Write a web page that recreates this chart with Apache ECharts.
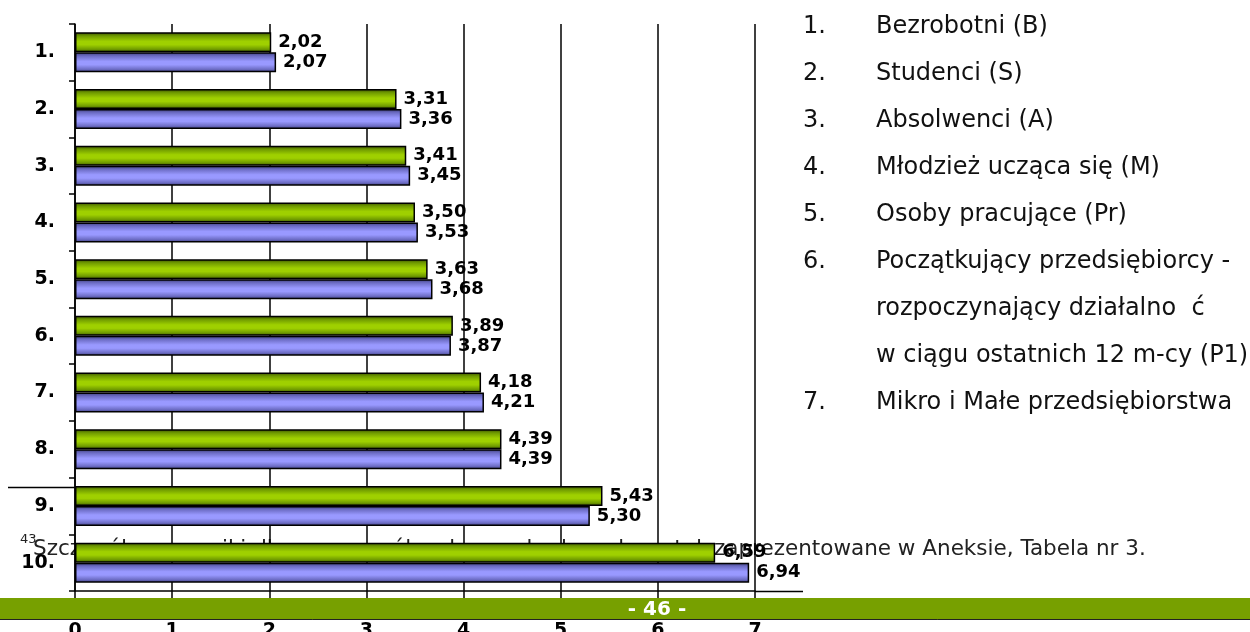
<!DOCTYPE html>
<html>
<head>
<meta charset="utf-8">
<script src="https://cdn.jsdelivr.net/npm/echarts@6/dist/echarts.min.js"></script>
<style>
  html, body { margin: 0; padding: 0; background: #fff; }
  #main { width: 1250px; height: 632px; }
</style>
</head>
<body>
<div id="main"></div>
<script>
// dane z wykresu
var categories = ['1.', '2.', '3.', '4.', '5.', '6.', '7.', '8.', '9.', '10.'];
var greenValues = [2.02, 3.31, 3.41, 3.50, 3.63, 3.89, 4.18, 4.39, 5.43, 6.59];
var purpleValues = [2.07, 3.36, 3.45, 3.53, 3.68, 3.87, 4.21, 4.39, 5.30, 6.94];
var xMin = 0, xMax = 7, xStep = 1;

// opis po prawej
var legendNumbers = ['1.', '2.', '3.', '4.', '5.', '6.', '', '', '7.'];
var legendTexts = [
  'Bezrobotni (B)',
  'Studenci (S)',
  'Absolwenci (A)',
  'Młodzież ucząca się (M)',
  'Osoby pracujące (Pr)',
  'Początkujący przedsiębiorcy -',
  'rozpoczynający działalno  ć',
  'w ciągu ostatnich 12 m-cy (P1)',
  'Mikro i Małe przedsiębiorstwa'
];

var footnoteNo = '43';
var footnoteLeft = 'Szczegółowe wyniki dla poszczególnych grup badanych zostały';
var footnoteRight = 'zaprezentowane w Aneksie, Tabela nr 3.';
var pageNo = '- 46 -';

function fmt(p) {
  return p.value.toFixed(2).replace('.', ',');
}

function barGradient(edge, mid, light) {
  return {
    type: 'linear', x: 0, y: 0, x2: 0, y2: 1,
    colorStops: [
      { offset: 0, color: edge },
      { offset: 0.18, color: mid },
      { offset: 0.45, color: light },
      { offset: 0.62, color: light },
      { offset: 0.85, color: mid },
      { offset: 1, color: edge }
    ]
  };
}

var graphics = [];
// linia przypisu
graphics.push({ type: 'line', z: 0, shape: { x1: 8, y1: 487.5, x2: 75, y2: 487.5 }, style: { stroke: '#000', lineWidth: 1.5 } });
graphics.push({ type: 'text', z: 0, style: { text: footnoteNo, x: 20, y: 540, font: '13px "DejaVu Sans"', fill: '#222', textVerticalAlign: 'middle' } });
graphics.push({ type: 'text', z: 0, style: { text: footnoteLeft, x: 33, y: 549, font: '21.5px "DejaVu Sans"', fill: '#222', textVerticalAlign: 'middle' } });
graphics.push({ type: 'text', z: 0, style: { text: footnoteRight, x: 714, y: 549, font: '21.5px "DejaVu Sans"', fill: '#222', textVerticalAlign: 'middle' } });
// przedluzenie osi X
graphics.push({ type: 'line', z: 5, shape: { x1: 755, y1: 591.5, x2: 803, y2: 591.5 }, style: { stroke: '#000', lineWidth: 1.5 } });
// stopka strony
graphics.push({ type: 'rect', z: 100, shape: { x: 0, y: 598, width: 1250, height: 22 }, style: { fill: '#77a000' } });
graphics.push({ type: 'line', z: 101, shape: { x1: 0, y1: 619.5, x2: 1250, y2: 619.5 }, style: { stroke: '#222', lineWidth: 1 } });
graphics.push({ type: 'text', z: 101, style: { text: pageNo, x: 657, y: 610, font: 'bold 20px "DejaVu Sans"', fill: '#fff', textAlign: 'center', textVerticalAlign: 'middle' } });

legendTexts.forEach(function (t, i) {
  var y = 27 + i * 47;
  if (legendNumbers[i]) {
    graphics.push({ type: 'text', style: { text: legendNumbers[i], x: 803, y: y, font: '24px "DejaVu Sans"', fill: '#111', textVerticalAlign: 'middle' } });
  }
  graphics.push({ type: 'text', style: { text: t, x: 876, y: y, font: '24px "DejaVu Sans"', fill: '#111', textVerticalAlign: 'middle' } });
});

var labelStyle = {
  show: true,
  position: 'right',
  distance: 7,
  formatter: fmt,
  color: '#000',
  fontFamily: 'DejaVu Sans',
  fontWeight: 'bold',
  fontSize: 18
};

var option = {
  animation: false,
  backgroundColor: '#fff',
  grid: { left: 75, right: 495, top: 24, bottom: 41, containLabel: false, outerBoundsMode: 'none' },
  xAxis: {
    type: 'value',
    min: xMin,
    max: xMax,
    interval: xStep,
    axisLine: { show: true, lineStyle: { color: '#000', width: 1.5 } },
    axisTick: { show: true, length: 7, lineStyle: { color: '#000', width: 1.5 } },
    splitLine: { show: true, lineStyle: { color: '#000', width: 1.5 } },
    axisLabel: { margin: 31, color: '#000', fontFamily: 'DejaVu Sans', fontWeight: 'bold', fontSize: 19 }
  },
  yAxis: {
    type: 'category',
    inverse: true,
    data: categories,
    axisLine: { show: true, lineStyle: { color: '#000', width: 1.5 } },
    axisTick: { show: true, length: 6, lineStyle: { color: '#000', width: 1.5 } },
    axisLabel: { margin: 20, color: '#000', fontFamily: 'DejaVu Sans', fontWeight: 'bold', fontSize: 19 }
  },
  graphic: graphics,
  series: [
    {
      name: 'green',
      type: 'bar',
      data: greenValues,
      barWidth: 20,
      barGap: '0%',
      itemStyle: { color: barGradient('#3a4f00', '#6f9a00', '#9fd000'), borderColor: '#000', borderWidth: 1.5 },
      label: labelStyle
    },
    {
      name: 'purple',
      type: 'bar',
      data: purpleValues,
      barWidth: 20,
      barGap: '0%',
      itemStyle: { color: barGradient('#3c3c78', '#6c6cc4', '#9999ff'), borderColor: '#000', borderWidth: 1.5 },
      label: labelStyle
    }
  ]
};

var chart = echarts.init(document.getElementById('main'), null, { renderer: 'canvas' });
chart.setOption(option);
</script>
</body>
</html>
